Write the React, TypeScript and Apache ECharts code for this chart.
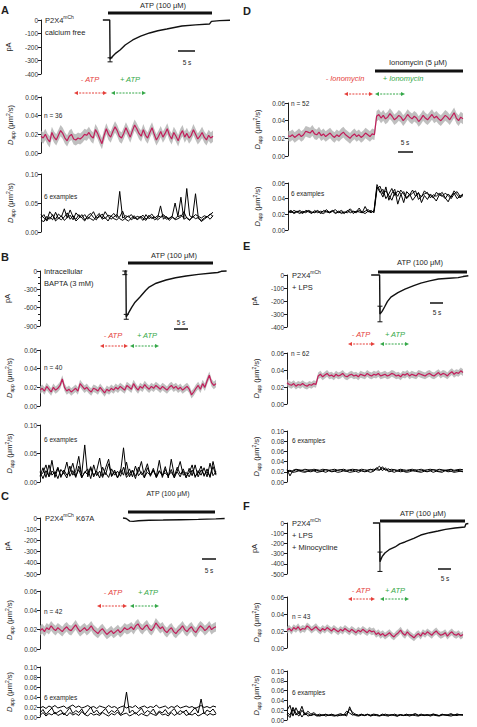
import React, { useEffect, useRef } from 'react';
import * as echarts from 'echarts';

const FONT = '"Liberation Sans", Arial, Helvetica, sans-serif';
const MAGENTA = '#c21d5a';
const RED = '#e5403b';
const GREEN = '#35a849';
const INK = '#1e1e1e';

// ---------- current traces: [time (s), current (pA)] ----------
const curA = [[18,0],[20,0],[20.1,-290],[20.8,-270],[21.8,-245],[23,-222],[24.5,-185],[26.7,-148],[29,-120],[31.6,-96],[34,-80],[36.6,-67],[41,-44],[45,-36],[49,-30],[49.6,-10],[52,-5],[55,-2]];
const curB = [[24.1,0],[24.4,0],[24.5,-750],[25.2,-680],[26,-600],[27,-510],[28.4,-425],[30,-320],[31,-262],[33,-200],[35.8,-147],[38.5,-110],[41.5,-82],[45,-55],[48.9,-33],[50.5,-25],[51.5,-5],[53,0]];
const curC = [[23.6,0],[24.5,-5],[25.5,-28],[26.5,-30],[28,-24],[31,-20],[35,-18],[40,-15],[45,-12],[50,-8],[52.5,-5]];
const curE = [[23.9,0],[26.3,0],[26.4,-300],[27,-280],[27.7,-246],[28.5,-205],[29.5,-170],[31.5,-135],[33.5,-108],[36,-82],[38,-62],[40.5,-45],[43,-31],[46,-25],[48.6,-20],[50,-12],[51.5,-6]];
const curF = [[24.4,0],[26.3,0],[26.4,-380],[27,-330],[27.8,-294],[29,-262],[30.7,-235],[32,-205],[33.5,-186],[36,-150],[38,-118],[40.5,-95],[42.9,-78],[45,-62],[47.7,-49],[50.5,-39],[50.8,-10],[51.5,-5]];

// peak error bars: [time, mean, sem]
const peakA = [[20.1, -295, 15]];
const peakB = [[24.5, -750, 40], [24.1, -30, 30]];
const peakE = [[26.4, -300, 60]];
const peakF = [[26.4, -380, 95]];

// ---------- mean D_app traces (µm²/s) ----------
const meanA = [0.018,0.016,0.020,0.015,0.012,0.022,0.017,0.014,0.019,0.024,0.021,0.016,0.013,0.018,0.020,0.015,0.014,0.016,0.015,0.017,0.020,0.019,0.022,0.018,0.016,0.025,0.021,0.015,0.010,0.019,0.026,0.020,0.017,0.023,0.028,0.024,0.018,0.016,0.021,0.027,0.022,0.017,0.024,0.030,0.026,0.021,0.018,0.025,0.019,0.016,0.022,0.027,0.020,0.014,0.018,0.023,0.017,0.021,0.026,0.019,0.015,0.022,0.018,0.013,0.020,0.024,0.017,0.021,0.016,0.019,0.025,0.020,0.015,0.018,0.022,0.017,0.014,0.019,0.016,0.018];
const meanB = [0.017,0.019,0.016,0.021,0.018,0.015,0.020,0.017,0.019,0.022,0.029,0.020,0.016,0.018,0.015,0.017,0.019,0.016,0.024,0.021,0.018,0.020,0.017,0.015,0.019,0.018,0.016,0.020,0.017,0.014,0.018,0.016,0.019,0.017,0.020,0.018,0.021,0.019,0.017,0.022,0.020,0.018,0.024,0.020,0.017,0.021,0.019,0.023,0.020,0.018,0.021,0.019,0.022,0.020,0.018,0.021,0.019,0.017,0.020,0.022,0.019,0.021,0.018,0.020,0.017,0.019,0.021,0.018,0.012,0.015,0.019,0.022,0.018,0.024,0.020,0.027,0.033,0.025,0.022,0.024];
const meanC = [0.019,0.021,0.018,0.022,0.020,0.024,0.021,0.019,0.022,0.020,0.018,0.021,0.023,0.020,0.019,0.022,0.025,0.021,0.018,0.020,0.022,0.019,0.021,0.024,0.020,0.018,0.016,0.019,0.021,0.018,0.015,0.017,0.019,0.016,0.018,0.020,0.017,0.019,0.022,0.020,0.021,0.023,0.020,0.024,0.026,0.022,0.020,0.023,0.025,0.021,0.019,0.022,0.027,0.024,0.021,0.023,0.019,0.017,0.020,0.022,0.018,0.016,0.019,0.021,0.024,0.020,0.018,0.021,0.023,0.019,0.017,0.021,0.024,0.022,0.019,0.021,0.024,0.020,0.022,0.023];
const meanD = [0.023,0.022,0.024,0.021,0.023,0.025,0.022,0.024,0.028,0.027,0.026,0.029,0.025,0.024,0.027,0.023,0.025,0.022,0.024,0.026,0.023,0.021,0.024,0.022,0.025,0.027,0.024,0.022,0.020,0.023,0.025,0.022,0.024,0.021,0.023,0.026,0.024,0.022,0.025,0.024,0.045,0.047,0.043,0.046,0.042,0.044,0.048,0.045,0.041,0.043,0.046,0.044,0.040,0.043,0.047,0.044,0.042,0.045,0.043,0.039,0.042,0.046,0.043,0.041,0.044,0.047,0.043,0.045,0.042,0.040,0.043,0.046,0.044,0.041,0.045,0.049,0.043,0.040,0.044,0.042];
const meanE = [0.025,0.023,0.022,0.024,0.021,0.023,0.022,0.024,0.022,0.021,0.023,0.022,0.024,0.023,0.033,0.035,0.032,0.034,0.036,0.033,0.034,0.032,0.035,0.033,0.034,0.036,0.033,0.032,0.034,0.035,0.033,0.034,0.032,0.035,0.034,0.033,0.036,0.034,0.033,0.035,0.034,0.036,0.033,0.034,0.035,0.033,0.034,0.036,0.035,0.033,0.034,0.032,0.035,0.034,0.036,0.033,0.035,0.034,0.033,0.036,0.035,0.034,0.033,0.035,0.036,0.034,0.033,0.035,0.037,0.034,0.036,0.035,0.033,0.036,0.038,0.035,0.037,0.036,0.039,0.037];
const meanF = [0.021,0.023,0.020,0.024,0.022,0.025,0.021,0.023,0.022,0.026,0.024,0.021,0.023,0.025,0.022,0.020,0.023,0.021,0.024,0.022,0.020,0.023,0.021,0.019,0.022,0.020,0.023,0.021,0.019,0.022,0.020,0.018,0.021,0.019,0.022,0.020,0.018,0.021,0.019,0.020,0.016,0.018,0.015,0.017,0.014,0.016,0.018,0.015,0.013,0.016,0.018,0.021,0.017,0.015,0.019,0.016,0.014,0.012,0.015,0.017,0.014,0.018,0.016,0.019,0.017,0.015,0.018,0.020,0.017,0.015,0.016,0.018,0.014,0.017,0.019,0.016,0.015,0.017,0.014,0.016];

// SEM of each mean trace (grey band)
const semA = 0.006, semB = 0.004, semC = 0.005, semD = 0.006, semE = 0.004, semF = 0.004;

// ---------- single-particle examples ----------
const exA1 = [0.025,0.030,0.020,0.035,0.028,0.022,0.031,0.026,0.040,0.024,0.029,0.021,0.033,0.027,0.025,0.030,0.022,0.028,0.035,0.024,0.026,0.031,0.023,0.029,0.027,0.032,0.025,0.070,0.024,0.028,0.026,0.030,0.023,0.027,0.025,0.029,0.022,0.026,0.031,0.024,0.028,0.026,0.030,0.025,0.023,0.027,0.050,0.026,0.029,0.024,0.075,0.028,0.025,0.030,0.027,0.024,0.028,0.026,0.031,0.027];
const exA2 = [0.020,0.018,0.027,0.022,0.030,0.019,0.024,0.021,0.026,0.033,0.022,0.028,0.019,0.024,0.030,0.021,0.026,0.023,0.020,0.027,0.032,0.022,0.025,0.019,0.028,0.023,0.021,0.026,0.036,0.022,0.019,0.024,0.028,0.021,0.025,0.020,0.030,0.023,0.026,0.021,0.024,0.045,0.022,0.027,0.020,0.025,0.023,0.028,0.060,0.022,0.025,0.021,0.026,0.066,0.023,0.020,0.024,0.027,0.022,0.028];
const exA3 = [0.030,0.024,0.019,0.026,0.021,0.034,0.023,0.028,0.020,0.025,0.038,0.026,0.022,0.030,0.024,0.019,0.028,0.032,0.025,0.021,0.029,0.024,0.035,0.027,0.022,0.026,0.030,0.023,0.020,0.024,0.028,0.021,0.025,0.022,0.027,0.024,0.020,0.029,0.023,0.026,0.021,0.025,0.028,0.022,0.024,0.027,0.021,0.023,0.026,0.035,0.024,0.020,0.027,0.023,0.025,0.018,0.022,0.026,0.030,0.034];
const exB1 = [0.010,0.025,0.008,0.030,0.012,0.018,0.006,0.022,0.015,0.035,0.010,0.020,0.008,0.028,0.014,0.065,0.009,0.024,0.012,0.019,0.007,0.026,0.013,0.032,0.010,0.021,0.008,0.017,0.060,0.012,0.023,0.009,0.028,0.011,0.018,0.007,0.025,0.013,0.020,0.010,0.038,0.008,0.022,0.012,0.017,0.009,0.026,0.014,0.019,0.007,0.024,0.011,0.030,0.009,0.021,0.013,0.018,0.010,0.027,0.012];
const exB2 = [0.018,0.006,0.020,0.010,0.038,0.008,0.024,0.011,0.016,0.007,0.028,0.012,0.020,0.045,0.009,0.017,0.023,0.006,0.030,0.011,0.019,0.008,0.025,0.040,0.010,0.018,0.007,0.022,0.012,0.035,0.009,0.020,0.006,0.026,0.013,0.017,0.032,0.010,0.021,0.008,0.019,0.011,0.027,0.007,0.040,0.012,0.018,0.009,0.023,0.010,0.016,0.030,0.008,0.020,0.012,0.025,0.009,0.033,0.011,0.018];
const exB3 = [0.012,0.016,0.030,0.009,0.019,0.014,0.026,0.008,0.021,0.012,0.017,0.033,0.010,0.022,0.007,0.018,0.013,0.027,0.009,0.020,0.042,0.011,0.016,0.008,0.023,0.012,0.019,0.010,0.026,0.008,0.015,0.021,0.011,0.018,0.036,0.009,0.017,0.012,0.024,0.008,0.020,0.013,0.016,0.010,0.022,0.007,0.019,0.036,0.012,0.017,0.009,0.021,0.011,0.015,0.028,0.010,0.023,0.008,0.036,0.014];
const exC1 = [0.008,0.015,0.005,0.012,0.018,0.006,0.010,0.014,0.004,0.011,0.019,0.007,0.013,0.009,0.016,0.005,0.012,0.020,0.008,0.014,0.006,0.011,0.017,0.007,0.013,0.009,0.015,0.005,0.012,0.050,0.008,0.014,0.006,0.011,0.018,0.007,0.013,0.009,0.016,0.005,0.012,0.008,0.015,0.006,0.011,0.017,0.007,0.013,0.009,0.014,0.005,0.012,0.019,0.008,0.036,0.006,0.014,0.010,0.016,0.007];
const exC2 = [0.018,0.021,0.017,0.022,0.019,0.023,0.018,0.020,0.022,0.017,0.021,0.024,0.019,0.022,0.018,0.020,0.023,0.019,0.021,0.017,0.022,0.020,0.018,0.023,0.019,0.021,0.017,0.020,0.022,0.018,0.021,0.019,0.023,0.017,0.020,0.022,0.018,0.021,0.019,0.024,0.018,0.020,0.022,0.017,0.021,0.019,0.023,0.018,0.020,0.022,0.019,0.021,0.017,0.020,0.023,0.019,0.021,0.018,0.022,0.020];
const exC3 = [0.003,0.009,0.002,0.007,0.004,0.010,0.003,0.006,0.008,0.002,0.009,0.004,0.007,0.003,0.011,0.005,0.002,0.008,0.004,0.006,0.003,0.009,0.005,0.002,0.007,0.004,0.010,0.003,0.006,0.008,0.002,0.005,0.009,0.003,0.007,0.004,0.002,0.008,0.005,0.003,0.010,0.004,0.006,0.002,0.009,0.003,0.007,0.005,0.011,0.003,0.006,0.004,0.008,0.002,0.005,0.009,0.003,0.007,0.004,0.006];
const exD1 = [0.022,0.024,0.021,0.023,0.025,0.022,0.024,0.023,0.021,0.025,0.022,0.024,0.023,0.026,0.022,0.024,0.021,0.023,0.025,0.022,0.024,0.027,0.023,0.022,0.025,0.023,0.021,0.024,0.022,0.025,0.055,0.048,0.052,0.040,0.046,0.053,0.044,0.050,0.047,0.035,0.049,0.045,0.051,0.043,0.047,0.042,0.050,0.046,0.044,0.041,0.048,0.045,0.043,0.047,0.044,0.040,0.046,0.049,0.043,0.045];
const exD2 = [0.024,0.022,0.025,0.023,0.021,0.024,0.022,0.025,0.023,0.022,0.024,0.021,0.025,0.023,0.022,0.024,0.026,0.022,0.023,0.021,0.025,0.022,0.024,0.023,0.028,0.022,0.024,0.026,0.023,0.024,0.058,0.050,0.042,0.055,0.038,0.047,0.052,0.033,0.045,0.049,0.041,0.046,0.038,0.043,0.048,0.035,0.044,0.039,0.046,0.042,0.037,0.045,0.048,0.041,0.036,0.044,0.047,0.040,0.043,0.046];
const exD3 = [0.023,0.025,0.022,0.024,0.023,0.021,0.025,0.024,0.022,0.023,0.025,0.022,0.021,0.024,0.023,0.025,0.022,0.024,0.021,0.023,0.022,0.025,0.021,0.024,0.023,0.022,0.030,0.023,0.025,0.022,0.052,0.056,0.046,0.050,0.044,0.038,0.048,0.043,0.051,0.046,0.040,0.044,0.047,0.050,0.039,0.043,0.046,0.048,0.041,0.045,0.043,0.047,0.044,0.040,0.046,0.042,0.050,0.045,0.041,0.044];
const exE1 = [0.022,0.023,0.021,0.024,0.022,0.023,0.021,0.022,0.024,0.022,0.023,0.021,0.022,0.024,0.023,0.021,0.022,0.023,0.024,0.022,0.021,0.023,0.022,0.024,0.023,0.022,0.021,0.023,0.025,0.022,0.028,0.024,0.030,0.023,0.026,0.022,0.024,0.021,0.023,0.022,0.021,0.023,0.022,0.024,0.021,0.022,0.023,0.021,0.022,0.024,0.023,0.021,0.022,0.023,0.022,0.024,0.021,0.023,0.022,0.021];
const exE2 = [0.020,0.021,0.019,0.020,0.022,0.020,0.019,0.021,0.020,0.022,0.019,0.020,0.021,0.019,0.022,0.020,0.021,0.019,0.020,0.022,0.021,0.019,0.020,0.021,0.019,0.022,0.020,0.021,0.019,0.021,0.026,0.031,0.022,0.028,0.020,0.021,0.019,0.022,0.020,0.021,0.019,0.020,0.022,0.021,0.020,0.019,0.021,0.020,0.022,0.019,0.021,0.020,0.019,0.022,0.020,0.021,0.019,0.020,0.021,0.020];
const exE3 = [0.024,0.012,0.023,0.025,0.024,0.023,0.025,0.024,0.023,0.025,0.024,0.023,0.025,0.024,0.023,0.024,0.025,0.023,0.024,0.025,0.023,0.024,0.025,0.024,0.023,0.025,0.024,0.023,0.024,0.025,0.024,0.023,0.027,0.024,0.023,0.025,0.024,0.023,0.025,0.024,0.023,0.024,0.025,0.023,0.024,0.025,0.023,0.024,0.025,0.024,0.023,0.025,0.024,0.023,0.024,0.025,0.023,0.024,0.025,0.024];
const exF1 = [0.020,0.030,0.008,0.025,0.012,0.028,0.010,0.018,0.012,0.015,0.010,0.012,0.009,0.011,0.010,0.012,0.009,0.011,0.013,0.010,0.012,0.022,0.016,0.011,0.010,0.012,0.009,0.011,0.010,0.012,0.011,0.009,0.012,0.010,0.011,0.009,0.012,0.010,0.011,0.009,0.012,0.010,0.011,0.013,0.010,0.012,0.009,0.011,0.010,0.012,0.011,0.009,0.012,0.010,0.011,0.013,0.010,0.012,0.011,0.010];
const exF2 = [0.012,0.005,0.022,0.010,0.018,0.006,0.015,0.008,0.010,0.012,0.008,0.009,0.011,0.008,0.010,0.009,0.008,0.010,0.009,0.011,0.008,0.027,0.012,0.009,0.008,0.010,0.009,0.011,0.008,0.010,0.009,0.008,0.010,0.009,0.008,0.011,0.009,0.008,0.010,0.009,0.011,0.008,0.010,0.009,0.008,0.010,0.009,0.011,0.008,0.010,0.009,0.008,0.010,0.011,0.009,0.008,0.010,0.009,0.011,0.010];
const exF3 = [0.016,0.010,0.026,0.014,0.008,0.020,0.011,0.013,0.009,0.011,0.010,0.008,0.010,0.012,0.009,0.011,0.010,0.008,0.011,0.010,0.018,0.014,0.010,0.012,0.009,0.011,0.010,0.012,0.009,0.010,0.011,0.009,0.010,0.012,0.009,0.011,0.010,0.008,0.011,0.010,0.009,0.011,0.010,0.012,0.009,0.010,0.011,0.009,0.010,0.012,0.010,0.009,0.011,0.010,0.009,0.011,0.010,0.012,0.010,0.011];

// tick settings
const curTicksA = { min: -400, max: 0, interval: 100 };
const curTicksB = { min: -900, max: 0, interval: 300 };
const curTicksC = { min: -500, max: 0, interval: 100 };
const curTicksE = { min: -400, max: 0, interval: 100 };
const curTicksF = { min: -500, max: 0, interval: 100 };
const midTicks = { min: 0, max: 0.06, interval: 0.02 };
const exTicks05 = { min: 0, max: 0.1, interval: 0.05 };
const exTicks02 = { min: 0, max: 0.1, interval: 0.02 };
const exTicksD = { min: 0, max: 0.06, interval: 0.02 };

const DAPP_RICH = {
  i: { fontStyle: 'italic', fontSize: 7.5, fontFamily: FONT, color: INK },
  sub: { fontSize: 5, fontFamily: FONT, color: INK, verticalAlign: 'bottom', lineHeight: 10 },
  sup: { fontSize: 5, fontFamily: FONT, color: INK, verticalAlign: 'top', lineHeight: 10 },
};

function buildOption() {
  const grid: any[] = [];
  const xAxis: any[] = [];
  const yAxis: any[] = [];
  const series: any[] = [];
  const els: any[] = [];

  const yAx = (gi: number, t: any, fmt: (v: number) => string, kind: 'pA' | 'D', minor = false) => ({
    type: 'value', gridIndex: gi, min: t.min, max: t.max, interval: t.interval,
    axisLine: { show: true, lineStyle: { color: INK, width: 1 } },
    axisTick: { show: true, length: 3, lineStyle: { color: INK, width: 1 } },
    minorTick: { show: minor, splitNumber: 3, length: 2, lineStyle: { color: INK } },
    axisLabel: { fontSize: 6.5, color: '#333', margin: 3, fontFamily: FONT, formatter: fmt },
    splitLine: { show: false },
    name: kind === 'pA' ? 'pA' : '{i|D}{sub|app} (μm{sup|2}/s)',
    nameLocation: 'middle', nameGap: kind === 'pA' ? 29 : 26,
    nameTextStyle: { fontSize: 7.5, color: INK, fontFamily: FONT, rich: DAPP_RICH },
  });
  const fmtCur = (v: number) => String(v);
  const fmt2 = (v: number) => v.toFixed(2);

  const addCur = (box: any, tmax: number, data: number[][], peaks: number[][], ticks: any, minor = false) => {
    const gi = grid.length;
    grid.push({ ...box });
    xAxis.push({ type: 'value', gridIndex: gi, min: 0, max: tmax, show: false });
    yAxis.push(yAx(gi, ticks, fmtCur, 'pA', minor));
    series.push({ type: 'line', xAxisIndex: gi, yAxisIndex: gi, data, symbol: 'none', lineStyle: { color: '#111', width: 1.4 }, silent: true, clip: false });
    series.push({
      type: 'custom', xAxisIndex: gi, yAxisIndex: gi, data: peaks, silent: true, clip: false,
      encode: { x: 0, y: 1 },
      renderItem: (_p: any, api: any) => {
        const t = api.value(0), m = api.value(1), e = api.value(2);
        const a = api.coord([t, m - e]), b = api.coord([t, m + e]);
        const w = 2.5, st = { stroke: '#111', lineWidth: 1 };
        return { type: 'group', children: [
          { type: 'line', shape: { x1: a[0], y1: a[1], x2: b[0], y2: b[1] }, style: st },
          { type: 'line', shape: { x1: a[0] - w, y1: a[1], x2: a[0] + w, y2: a[1] }, style: st },
          { type: 'line', shape: { x1: b[0] - w, y1: b[1], x2: b[0] + w, y2: b[1] }, style: st },
        ] };
      },
    });
  };

  const addMid = (box: any, mean: number[], sem: number) => {
    const gi = grid.length;
    grid.push({ ...box });
    xAxis.push({ type: 'category', gridIndex: gi, data: mean.map((_, i) => i), boundaryGap: false, show: false });
    yAxis.push(yAx(gi, midTicks, fmt2, 'D'));
    const st = 'band' + gi;
    series.push({ type: 'line', xAxisIndex: gi, yAxisIndex: gi, stack: st, data: mean.map(v => v - sem), symbol: 'none', lineStyle: { opacity: 0 }, silent: true });
    series.push({ type: 'line', xAxisIndex: gi, yAxisIndex: gi, stack: st, data: mean.map(() => 2 * sem), symbol: 'none', lineStyle: { opacity: 0 }, areaStyle: { color: '#a9a9a9', opacity: 0.75 }, silent: true });
    series.push({ type: 'line', xAxisIndex: gi, yAxisIndex: gi, data: mean, symbol: 'none', lineStyle: { color: MAGENTA, width: 1.2 }, silent: true });
  };

  const addEx = (box: any, traces: number[][], ticks: any) => {
    const gi = grid.length;
    grid.push({ ...box });
    xAxis.push({ type: 'category', gridIndex: gi, data: traces[0].map((_, i) => i), boundaryGap: false, show: false });
    yAxis.push(yAx(gi, ticks, fmt2, 'D'));
    traces.forEach((tr) => series.push({ type: 'line', xAxisIndex: gi, yAxisIndex: gi, data: tr, symbol: 'none', lineStyle: { color: '#000', width: 1 }, silent: true }));
  };

  // ---- Panel A ----
  addCur({ left: 41, top: 20, width: 189, height: 54 }, 55, curA, peakA, curTicksA);
  addMid({ left: 41, top: 97, width: 172, height: 56 }, meanA, semA);
  addEx({ left: 41, top: 174, width: 172, height: 58 }, [exA1, exA2, exA3], exTicks05);
  // ---- Panel B ----
  addCur({ left: 40, top: 271, width: 188, height: 55 }, 53.4, curB, peakB, curTicksB, true);
  addMid({ left: 40, top: 350, width: 176, height: 56 }, meanB, semB);
  addEx({ left: 40, top: 425, width: 176, height: 57 }, [exB1, exB2, exB3], exTicks05);
  // ---- Panel C ----
  addCur({ left: 40, top: 518, width: 185, height: 56 }, 52.6, curC, [], curTicksC);
  addMid({ left: 40, top: 591, width: 176, height: 58 }, meanC, semC);
  addEx({ left: 40, top: 667, width: 176, height: 50 }, [exC1, exC2, exC3], exTicks02);
  // ---- Panel D ----
  addMid({ left: 288, top: 103, width: 175, height: 53 }, meanD, semD);
  addEx({ left: 288, top: 183, width: 175, height: 47 }, [exD1, exD2, exD3], exTicksD);
  // ---- Panel E ----
  addCur({ left: 287, top: 275, width: 181, height: 52 }, 51.4, curE, peakE, curTicksE);
  addMid({ left: 287, top: 353, width: 176, height: 51 }, meanE, semE);
  addEx({ left: 287, top: 431, width: 176, height: 51 }, [exE1, exE2, exE3], exTicks02);
  // ---- Panel F ----
  addCur({ left: 287, top: 523, width: 181, height: 51 }, 51.4, curF, peakF, curTicksF);
  addMid({ left: 287, top: 597, width: 176, height: 51 }, meanF, semF);
  addEx({ left: 287, top: 671, width: 176, height: 49 }, [exF1, exF2, exF3], exTicks02);

  // ---------- annotations ----------
  const txt = (x: number, y: number, text: string, o: any = {}) => {
    const align = o.align || 'left';
    els.push({
      type: 'text', x, y, silent: true,
      style: {
        text, fontSize: o.size || 7.5, fontFamily: FONT, fill: o.color || INK,
        fontStyle: o.italic ? 'italic' : 'normal', fontWeight: o.bold ? 'bold' : 'normal',
        align, textAlign: align, verticalAlign: o.va || 'middle', textVerticalAlign: o.va || 'middle',
        lineHeight: o.lh, rich: o.rich,
      },
    });
  };
  const supRich = { s: { fontSize: 5, fontFamily: FONT, fill: INK, verticalAlign: 'top', lineHeight: 12 } };
  const bar = (x1: number, x2: number, y: number) => els.push({ type: 'rect', silent: true, shape: { x: x1, y: y - 1.5, width: x2 - x1, height: 3 }, style: { fill: '#111' } });
  const scale = (x1: number, x2: number, y: number, tx: number, ty: number) => {
    els.push({ type: 'line', silent: true, shape: { x1, y1: y, x2, y2: y }, style: { stroke: '#111', lineWidth: 1.5 } });
    txt(tx, ty, '5 s', { align: 'center', size: 6.5 });
  };
  const arrow = (x1: number, x2: number, y: number, color: string) => {
    els.push({ type: 'line', silent: true, shape: { x1: x1 + 2, y1: y, x2: x2 - 2, y2: y }, style: { stroke: color, lineWidth: 1, lineDash: [2, 1.2] } });
    els.push({ type: 'polygon', silent: true, shape: { points: [[x1, y], [x1 + 4, y - 2], [x1 + 4, y + 2]] }, style: { fill: color } });
    els.push({ type: 'polygon', silent: true, shape: { points: [[x2, y], [x2 - 4, y - 2], [x2 - 4, y + 2]] }, style: { fill: color } });
  };
  const minusPlus = (xm: number, xp: number, y: number, a: number[], label = 'ATP') => {
    txt(xm, y, '- ' + label, { align: 'center', italic: true, color: RED });
    txt(xp, y, '+ ' + label, { align: 'center', italic: true, color: GREEN });
    arrow(a[0], a[1], a[4], RED);
    arrow(a[2], a[3], a[4], GREEN);
  };

  // A
  txt(1, 4, 'A', { bold: true, size: 11, va: 'top' });
  txt(163, 5, 'ATP (100 μM)', { align: 'center' });
  bar(108, 212, 13);
  txt(45, 14, 'P2X4{s|mCh}\ncalcium free', { va: 'top', lh: 12, rich: supRich });
  scale(178, 195, 51, 187, 62);
  minusPlus(90, 130, 79, [74, 107, 111, 146, 93]);
  txt(44, 115, 'n = 36', { size: 6.5 });
  txt(44, 196, '6 examples', { size: 6.5 });
  // B
  txt(1, 251, 'B', { bold: true, size: 11, va: 'top' });
  txt(174, 255, 'ATP (100 μM)', { align: 'center' });
  bar(128, 213, 263);
  txt(44, 265, 'Intracellular\nBAPTA (3 mM)', { va: 'top', lh: 12 });
  scale(174, 188, 329, 181, 322);
  minusPlus(113, 147, 335, [100, 128, 130, 159, 346]);
  txt(44, 367, 'n = 40', { size: 6.5 });
  txt(44, 439, '6 examples', { size: 6.5 });
  // C
  txt(1, 490, 'C', { bold: true, size: 11, va: 'top' });
  txt(168, 493, 'ATP (100 μM)', { align: 'center', size: 7 });
  bar(128, 215, 512);
  txt(45, 512, 'P2X4{s|mCh} K67A', { va: 'top', lh: 12, rich: supRich });
  scale(202, 216, 559, 209, 570);
  minusPlus(113, 148, 592, [97, 127, 130, 159, 606]);
  txt(44, 611, 'n = 42', { size: 6.5 });
  txt(44, 697, '6 examples', { size: 6.5 });
  // D
  txt(243, 5, 'D', { bold: true, size: 11, va: 'top' });
  txt(418, 62, 'Ionomycin (5 μM)', { align: 'center' });
  bar(375, 463, 71);
  minusPlus(345, 403, 78, [344, 373, 375, 405, 94], 'Ionomycin');
  txt(291, 103, 'n = 52', { size: 6.5 });
  scale(398, 413, 152, 405, 142);
  txt(291, 193, '6 examples', { size: 6.5 });
  // E
  txt(243, 240, 'E', { bold: true, size: 11, va: 'top' });
  txt(420, 262, 'ATP (100 μM)', { align: 'center' });
  bar(378, 467, 272);
  txt(292, 269, 'P2X4{s|mCh}\n+ LPS', { va: 'top', lh: 12, rich: supRich });
  scale(430, 443, 303, 437, 312);
  minusPlus(361, 395, 334, [348, 375, 380, 409, 344]);
  txt(291, 353, 'n = 62', { size: 6.5 });
  txt(292, 440, '6 examples', { size: 6.5 });
  // F
  txt(243, 500, 'F', { bold: true, size: 11, va: 'top' });
  txt(423, 513, 'ATP (100 μM)', { align: 'center' });
  bar(380, 465, 521);
  txt(292, 517, 'P2X4{s|mCh}\n+ LPS\n+ Minocycline', { va: 'top', lh: 12, rich: supRich });
  scale(438, 451, 569, 445, 578);
  minusPlus(361, 395, 590, [348, 375, 380, 409, 599]);
  txt(292, 616, 'n = 43', { size: 6.5 });
  txt(292, 692, '6 examples', { size: 6.5 });

  return {
    animation: false,
    backgroundColor: '#ffffff',
    textStyle: { fontFamily: FONT },
    grid, xAxis, yAxis, series,
    graphic: { elements: els },
  };
}

export default function App() {
  const ref = useRef<HTMLDivElement>(null);
  useEffect(() => {
    const chart = echarts.init(ref.current!, null, { renderer: 'svg' });
    chart.setOption(buildOption() as any);
    return () => chart.dispose();
  }, []);
  return <div ref={ref} style={{ position: 'fixed', left: 0, top: 0, width: 477, height: 727, background: '#fff' }} />;
}
